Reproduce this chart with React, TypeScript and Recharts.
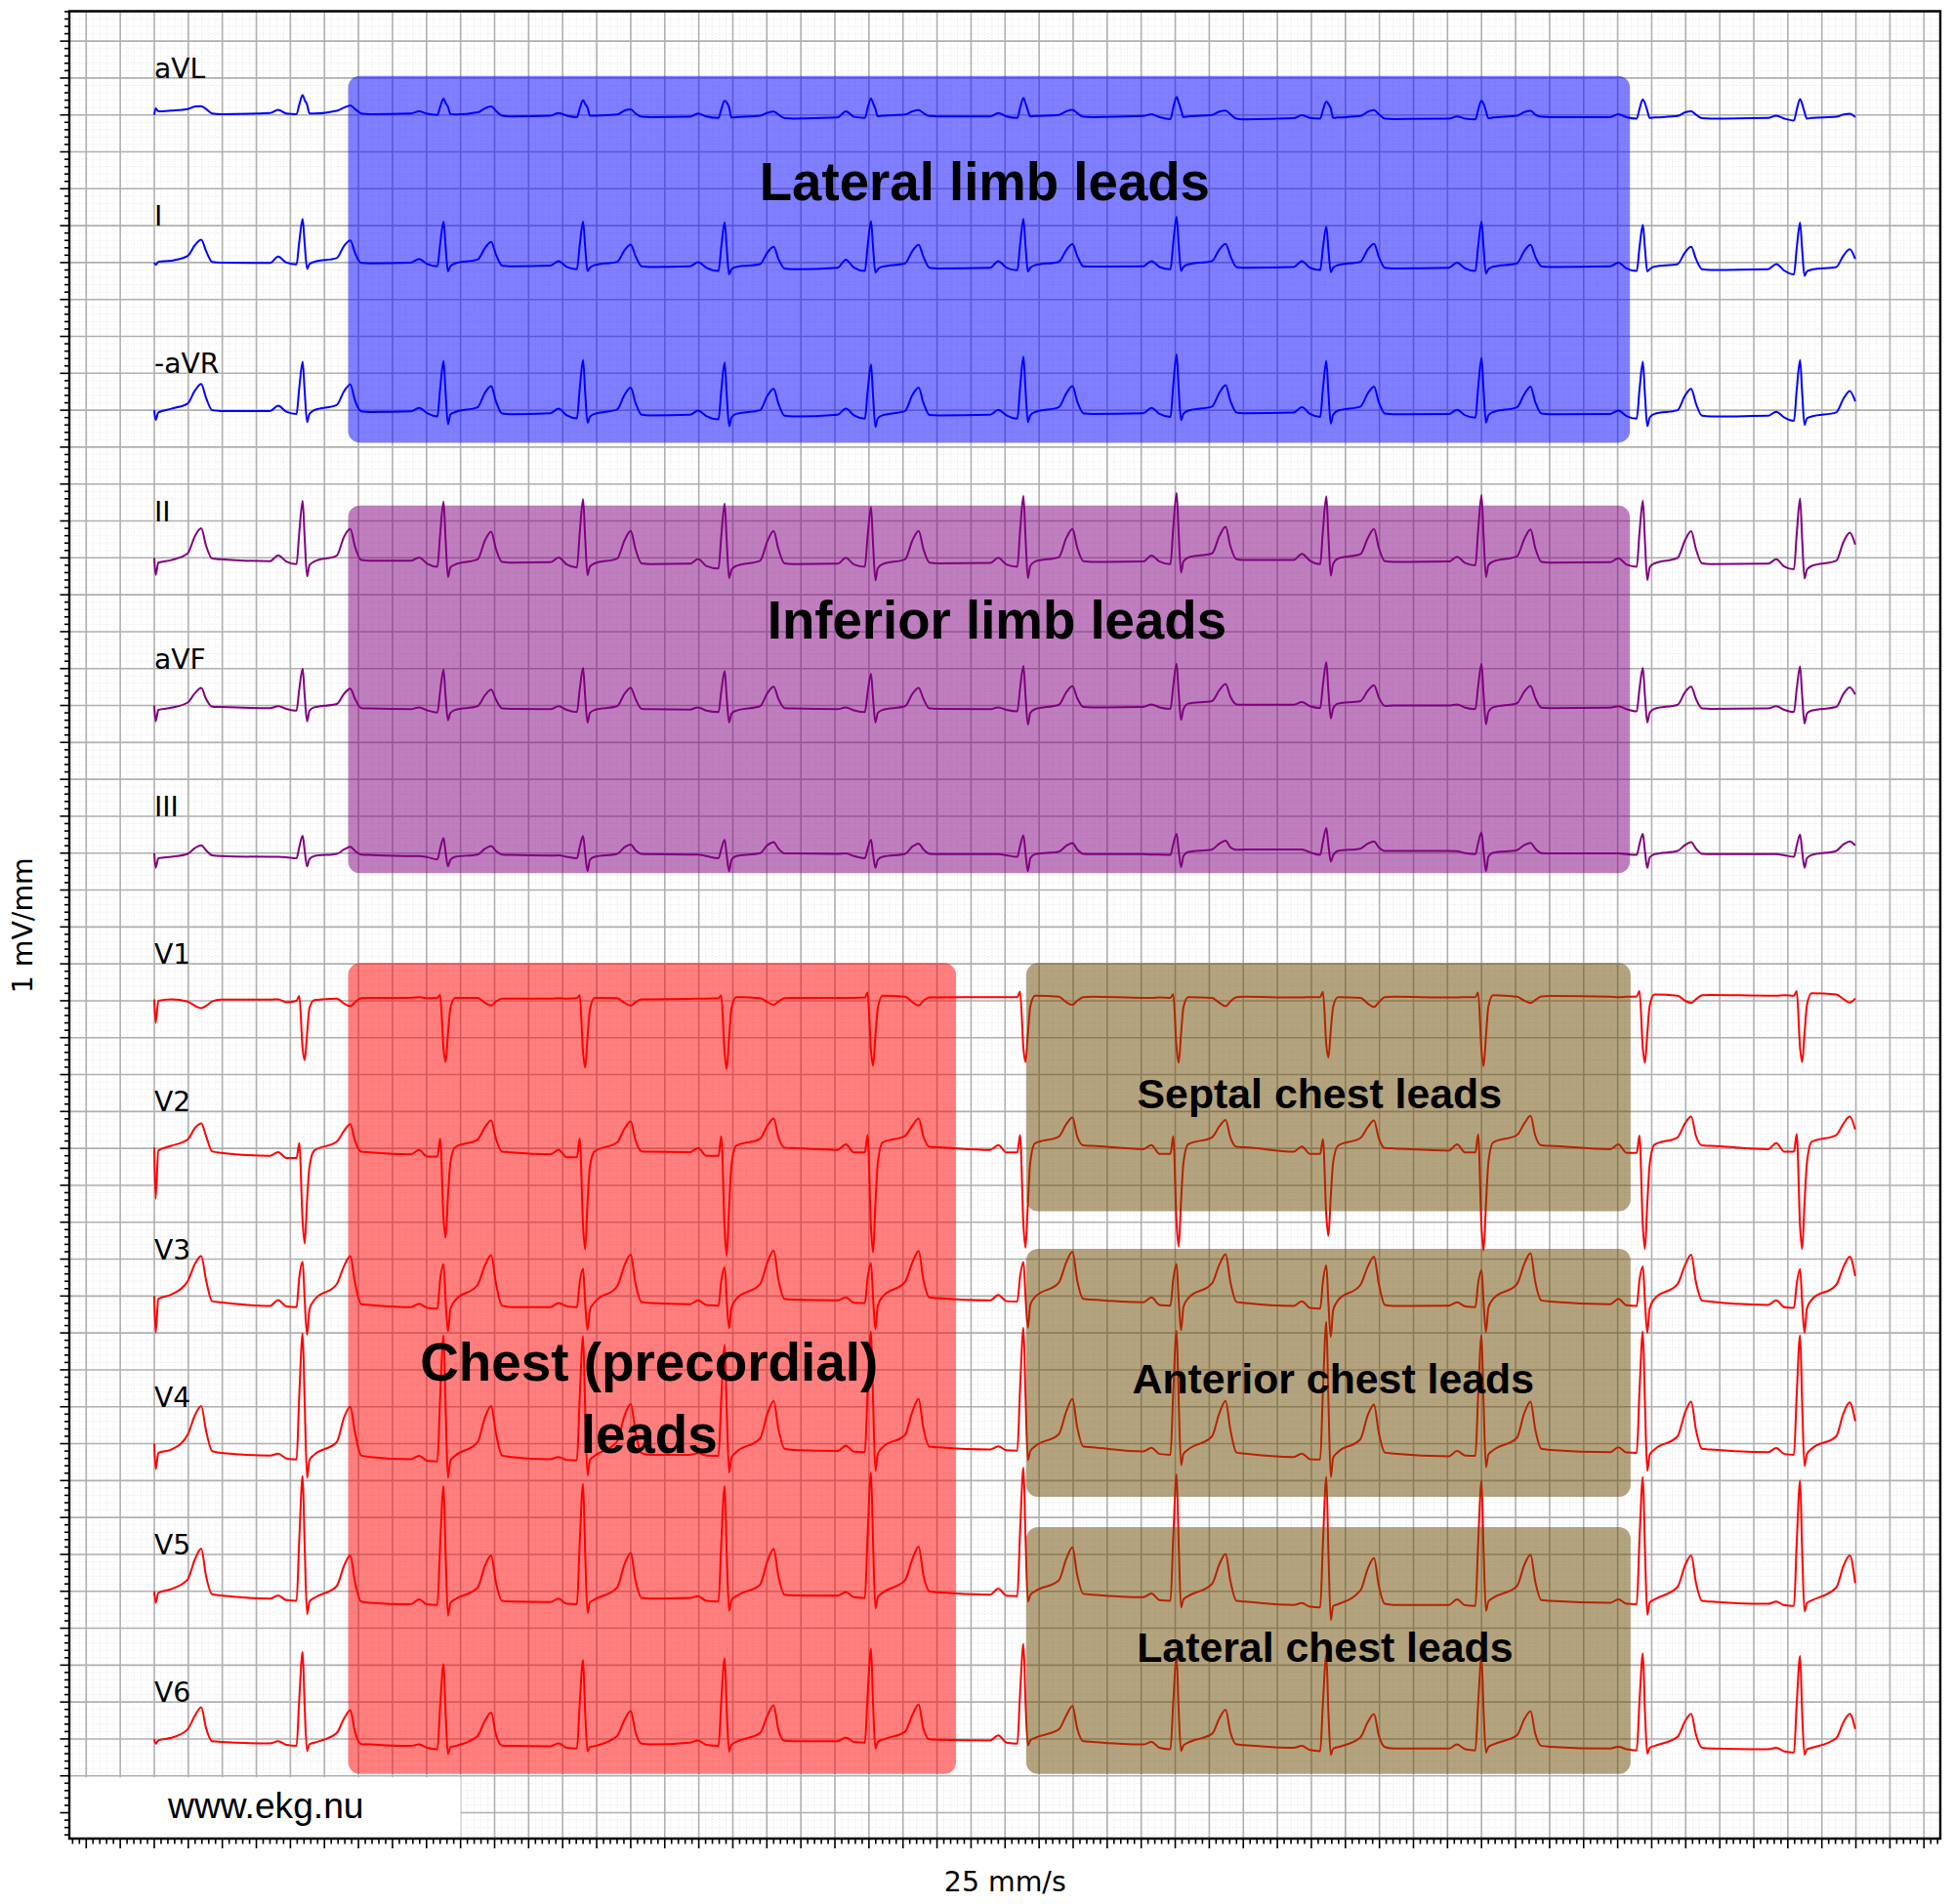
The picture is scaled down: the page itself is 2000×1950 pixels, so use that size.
import { LineChart, Line, XAxis, YAxis, CartesianGrid, ReferenceArea, ReferenceDot } from 'recharts';

// mm along the strip, 25 mm/s, one row per beat
const time = [
  0, .2, .6, 2.5, 4.9, 6.0, 6.9, 7.6, 8.5,
  9.8, 17.0, 18.2, 19.4, 20.9, 21.3, 21.8, 22.1, 22.45, 22.8, 23.5, 26.8, 27.9, 28.8, 29.5, 30.4,
  31.7, 37.7, 38.9, 40.1, 41.6, 42.0, 42.5, 42.8, 43.15, 43.5, 44.2, 47.5, 48.6, 49.5, 50.2, 51.1,
  52.4, 58.2, 59.4, 60.6, 62.1, 62.5, 63.0, 63.3, 63.65, 64.0, 64.7, 68.0, 69.1, 70.0, 70.7, 71.6,
  72.9, 78.7, 79.9, 81.1, 82.9, 83.3, 83.8, 84.1, 84.45, 84.8, 85.5, 89.0, 90.1, 91.0, 91.7, 92.6,
  93.9, 100.4, 101.6, 102.8, 104.4, 104.8, 105.3, 105.6, 105.95, 106.3, 107.0, 110.3, 111.4, 112.3, 113.0, 113.9,
  115.2, 122.8, 124.0, 125.2, 126.8, 127.2, 127.7, 128.0, 128.35, 128.7, 129.4, 132.9, 134.0, 134.9, 135.6, 136.5,
  137.8, 145.3, 146.5, 147.7, 149.3, 149.7, 150.2, 150.5, 150.85, 151.2, 151.9, 155.4, 156.5, 157.4, 158.1, 159.0,
  160.3, 167.4, 168.6, 169.8, 171.3, 171.7, 172.2, 172.5, 172.85, 173.2, 173.9, 177.2, 178.3, 179.2, 179.9, 180.8,
  182.1, 190.2, 191.4, 192.6, 194.1, 194.5, 195.0, 195.3, 195.65, 196.0, 196.7, 200.2, 201.3, 202.2, 202.9, 203.8,
  205.1, 213.9, 215.1, 216.3, 217.8, 218.2, 218.7, 219.0, 219.35, 219.7, 220.4, 223.8, 224.9, 225.8, 226.5, 227.4,
  228.7, 237.1, 238.3, 239.5, 240.9, 241.3, 241.8, 242.1, 242.45, 242.8, 243.5, 247.1, 248.2, 249.1, 249.9,
];

const aVL = [
  0, .9, .5, .6, .8, 1.15, 1.2, .8, .2,
  .1, .25, .7, .2, .1, 1.4, 2.7, 2.0, 1.4, .2, .2, .55, 1.0, 1.3, .8, .2,
  .1, .2, .5, .15, 0, 1.1, 2.2, 1.6, 1.1, .15, .05, .35, .9, 1.15, .55, -.1,
  -.2, -.1, .25, -.1, -.3, .85, 2.0, 1.5, 1.0, -.1, -.1, .05, .6, .75, .2, -.25,
  -.3, -.25, .2, -.2, -.4, .75, 1.9, 1.7, 1.0, -.35, -.3, -.1, .3, .45, .05, -.45,
  -.5, -.35, .5, -.25, -.4, .9, 2.25, 1.6, .8, -.2, -.1, .05, .5, .65, .25, -.15,
  -.2, -.2, .25, -.2, -.4, .95, 2.3, 1.6, .6, -.2, -.15, 0, .5, .7, .25, -.25,
  -.3, -.15, .1, -.3, -.55, .95, 2.45, 1.7, .7, -.3, -.2, 0, .45, .6, .1, -.5,
  -.6, -.45, -.05, -.4, -.5, .65, 1.8, 1.5, .9, -.4, -.35, -.15, .45, .65, .1, -.5,
  -.55, -.5, -.2, -.5, -.6, .7, 1.95, 1.5, .5, -.45, -.35, -.1, .4, .55, .05, -.25,
  -.3, -.3, .1, -.3, -.5, .8, 2.1, 1.6, .6, -.4, -.35, -.15, .35, .5, .05, -.45,
  -.5, -.4, -.1, -.5, -.75, .7, 2.15, 1.5, .4, -.5, -.4, -.25, .05, .15, -.3,
];

const leadI = [
  0, -.3, .1, .25, .9, 2.4, 3.1, 1.6, .1,
  0, -.05, .8, 0, -.25, 2.8, 5.9, 2.5, -.85, -.2, .1, .6, 2.3, 3.0, 1.3, -.05,
  -.1, 0, .5, -.2, -.5, 2.5, 5.55, 2.2, -1.2, -.5, -.1, .4, 2.0, 2.8, 1.1, -.4,
  -.5, -.4, .2, -.6, -.9, 2.3, 5.55, 2.2, -1.15, -.7, -.35, .1, 1.7, 2.45, .9, -.5,
  -.6, -.5, .05, -.7, -1.15, 2.1, 5.45, 2.0, -1.6, -.9, -.6, -.2, 1.4, 2.15, .5, -.8,
  -.9, -.7, .4, -.7, -1.15, 2.2, 5.6, 2.1, -1.35, -.9, -.55, -.1, 1.6, 2.4, .8, -.7,
  -.8, -.7, .2, -.7, -1.05, 2.4, 5.9, 2.3, -1.2, -.7, -.35, .1, 1.7, 2.5, .9, -.5,
  -.55, -.5, .2, -.6, -.9, 2.6, 6.2, 2.5, -1.15, -.6, -.25, .2, 1.8, 2.55, .9, -.6,
  -.7, -.6, .2, -.7, -1.0, 2.0, 4.9, 1.8, -1.3, -.7, -.35, .1, 1.8, 2.55, .8, -.7,
  -.8, -.7, 0, -.8, -1.15, 2.2, 5.55, 2.0, -1.5, -.9, -.55, -.1, 1.6, 2.4, .8, -.5,
  -.6, -.5, 0, -.8, -1.15, 2.0, 5.1, 2.0, -1.2, -.9, -.55, -.2, 1.4, 2.15, .5, -.9,
  -1.0, -.9, -.2, -1.1, -1.6, 1.9, 5.4, 1.8, -1.8, -1.2, -.95, -.6, 1.0, 1.8, .5,
];

const minusAVR = [
  0, -1.3, -.3, .2, .9, 2.7, 3.55, 1.7, 0,
  -.1, -.1, .6, -.2, -.5, 3.0, 6.55, 2.5, -1.6, -.5, 0, .7, 2.6, 3.5, 1.3, -.15,
  -.25, -.15, .3, -.4, -.85, 2.9, 6.65, 2.4, -1.9, -.6, -.25, .4, 2.4, 3.25, 1.2, -.45,
  -.55, -.4, .2, -.7, -1.1, 2.8, 6.8, 2.5, -1.7, -.9, -.5, .1, 2.1, 3.05, 1.0, -.6,
  -.7, -.6, -.05, -.8, -1.25, 2.6, 6.45, 2.2, -2.15, -1.0, -.5, 0, 2.0, 2.9, .9, -.75,
  -.85, -.6, .2, -.7, -1.15, 2.5, 6.2, 2.0, -2.25, -1.1, -.7, -.1, 2.1, 3.05, 1.0, -.65,
  -.7, -.6, .05, -.7, -1.15, 3.0, 7.25, 2.8, -1.6, -.7, -.25, .4, 2.3, 3.25, 1.2, -.4,
  -.5, -.4, .3, -.5, -.9, 3.3, 7.55, 3.0, -1.35, -.5, -.05, .5, 2.4, 3.4, 1.3, -.3,
  -.4, -.3, .4, -.5, -.9, 2.9, 6.65, 2.4, -1.8, -.6, -.05, .5, 2.3, 3.2, 1.1, -.45,
  -.55, -.5, .05, -.7, -1.0, 3.0, 7.1, 2.7, -1.7, -.7, -.25, .4, 2.2, 3.2, 1.1, -.45,
  -.55, -.5, -.05, -.8, -1.15, 2.7, 6.55, 2.2, -2.15, -1.0, -.5, 0, 2.0, 2.9, .9, -.75,
  -.85, -.75, -.2, -1.0, -1.45, 2.7, 6.8, 2.4, -2.0, -1.1, -.85, -.3, 1.6, 2.6, 1.2,
];

const leadII = [
  0, -2.3, -.65, -.3, .6, 3.0, 4.0, 1.7, -.1,
  -.2, -.45, .35, -.5, -.85, 3.4, 7.7, 2.6, -2.5, -1.0, -.5, .3, 2.9, 3.9, 1.5, -.3,
  -.4, -.4, .05, -.8, -1.2, 3.2, 7.6, 2.5, -2.6, -1.3, -.9, -.2, 2.4, 3.55, 1.2, -.55,
  -.65, -.6, .05, -.9, -1.3, 3.3, 7.95, 2.8, -2.35, -1.2, -.75, -.1, 2.4, 3.65, 1.2, -.75,
  -.85, -.8, -.15, -1.1, -1.45, 2.9, 7.35, 2.3, -2.75, -1.6, -1.1, -.4, 2.3, 3.65, 1.2, -.75,
  -.85, -.8, 0, -.9, -1.2, 2.9, 6.9, 1.9, -3.05, -1.4, -.85, -.2, 2.4, 3.65, 1.2, -.65,
  -.75, -.7, 0, -.9, -1.2, 3.6, 8.4, 2.8, -2.75, -1.1, -.5, .1, 2.7, 3.9, 1.4, -.45,
  -.55, -.5, .3, -.5, -.85, 4.0, 8.8, 3.4, -2.0, -.5, .05, .6, 3.0, 4.2, 1.6, -.2,
  -.3, -.3, .55, -.4, -.85, 3.7, 8.35, 3.0, -2.4, -.8, -.1, .5, 2.7, 3.9, 1.4, -.45,
  -.55, -.5, .15, -.7, -1.0, 3.7, 8.5, 3.0, -2.6, -1.0, -.5, .2, 2.6, 3.85, 1.3, -.55,
  -.65, -.6, -.05, -.9, -1.2, 3.3, 7.75, 2.4, -3.0, -1.3, -.75, 0, 2.4, 3.6, 1.2, -.75,
  -.85, -.8, -.2, -1.2, -1.55, 3.2, 8.05, 2.6, -2.8, -1.6, -1.1, -.4, 2.2, 3.4, 1.8,
];

const aVF = [
  0, -2.15, -.6, -.3, .4, 1.7, 2.4, .9, -.15,
  -.2, -.35, -.1, -.45, -.7, 2.2, 5.0, 1.3, -2.15, -.7, -.25, .2, 1.6, 2.3, .9, -.35,
  -.4, -.5, -.25, -.65, -.95, 1.9, 4.85, 1.2, -2.0, -1.0, -.6, -.1, 1.4, 2.15, .8, -.4,
  -.45, -.5, -.1, -.6, -.9, 2.1, 5.1, 1.3, -2.3, -1.0, -.6, -.1, 1.6, 2.4, .9, -.45,
  -.5, -.55, -.25, -.7, -.9, 1.9, 4.65, 1.1, -2.3, -1.1, -.7, -.1, 1.7, 2.55, .9, -.35,
  -.4, -.5, -.25, -.65, -.9, 1.7, 4.3, 1.0, -2.3, -1.0, -.6, -.1, 1.6, 2.4, .9, -.4,
  -.45, -.5, -.25, -.6, -.8, 2.3, 5.35, 1.3, -2.6, -1.0, -.5, .1, 1.8, 2.6, 1.0, -.2,
  -.25, -.2, .15, -.25, -.45, 2.6, 5.65, 1.8, -1.95, -.5, .25, .6, 2.1, 2.9, 1.2, .15,
  .1, .1, .45, -.1, -.35, 2.8, 5.85, 2.0, -1.75, -.4, .25, .6, 2.0, 2.75, 1.1, -.05,
  0, 0, .15, -.3, -.5, 2.6, 5.65, 1.5, -2.55, -.9, -.25, .3, 1.9, 2.65, 1.0, -.3,
  -.35, -.3, -.1, -.5, -.8, 2.2, 5.1, 1.4, -2.3, -1.0, -.45, .1, 1.8, 2.55, .9, -.4,
  -.45, -.4, -.1, -.6, -.9, 2.2, 5.3, 1.4, -2.45, -1.1, -.7, -.2, 1.6, 2.45, 1.5,
];

const leadIII = [
  0, -2.0, -.7, -.5, -.1, .7, 1.05, .4, -.3,
  -.4, -.5, -.5, -.55, -.7, .8, 2.35, .3, -1.8, -.8, -.4, -.1, .5, .85, .3, -.2,
  -.25, -.4, -.4, -.55, -.85, .6, 2.05, .1, -1.8, -.9, -.5, -.2, .6, .95, .3, -.2,
  -.25, -.35, -.3, -.5, -.7, .8, 2.3, 0, -2.45, -.9, -.5, -.1, .8, 1.15, .4, -.1,
  -.15, -.2, -.2, -.4, -.7, .55, 1.8, -.3, -2.45, -.9, -.4, 0, 1.1, 1.5, .6, -.05,
  -.05, -.1, -.05, -.4, -.7, .55, 1.8, -.1, -2.0, -.9, -.5, -.1, .9, 1.3, .5, -.1,
  -.15, -.15, -.15, -.3, -.5, .95, 2.4, 0, -2.45, -.7, -.15, .2, 1.0, 1.35, .5, -.1,
  -.15, -.15, -.2, -.2, -.25, 1.2, 2.6, .35, -1.9, -.4, .15, .5, 1.3, 1.7, .8, .45,
  .5, .5, .5, .1, -.25, 1.6, 3.4, 1.1, -1.15, -.3, .3, .6, 1.3, 1.6, .8, .3,
  .3, .3, .25, 0, -.15, 1.35, 2.8, .2, -2.45, -.5, .05, .4, 1.1, 1.4, .6, 0,
  -.05, -.05, -.05, -.15, -.25, 1.2, 2.6, .3, -2.0, -.6, -.15, .3, 1.1, 1.5, .6, -.1,
  -.15, -.15, -.15, -.3, -.5, 1.0, 2.5, .3, -2.0, -.7, -.25, .3, 1.2, 1.6, 1.05,
];

const V1 = [
  .2, -3.0, 0, .2, -.1, -.7, -1.0, -.7, -.1,
  .15, .15, .2, -.2, 0, .65, -6.5, -8.05, -4.5, -1.0, .1, .3, -.4, -.75, -.2, .35,
  .4, .4, .5, .35, .4, .8, -6.5, -8.3, -4.5, -1.0, .4, .4, -.3, -.65, -.1, .3,
  .3, .3, .35, .3, .35, .75, -7, -9.05, -5, -1.2, .4, .35, -.3, -.65, -.2, .2,
  .2, .25, .3, .3, .35, .75, -7.2, -9.25, -5, -1.0, .5, .35, -.2, -.55, -.1, .35,
  .4, .4, .4, .4, .45, 1.1, -6.8, -8.8, -4.8, -1.0, .7, .55, -.2, -.65, 0, .45,
  .45, .5, .5, .5, .5, 1.25, -6.5, -8.3, -4.5, -.8, .7, .55, -.2, -.55, 0, .5,
  .55, .4, .4, .45, .4, .9, -6.5, -8.4, -4.5, -.9, .5, .4, -.3, -.75, -.1, .5,
  .55, .45, .45, .5, .5, 1.2, -6, -7.7, -4, -.8, .5, .4, -.4, -.85, -.2, .5,
  .55, .45, .45, .5, .5, 1.1, -6.8, -8.85, -4.8, -.8, .75, .55, 0, -.3, .1, .6,
  .65, .55, .5, .55, .6, 1.3, -6.5, -8.4, -4.5, -.7, .85, .7, 0, -.3, .2, .75,
  .8, .7, .7, .75, .7, 1.3, -6.4, -8.3, -4.5, -.6, 1.0, .85, .2, -.25, .3,
];

const V2 = [
  .1, -6.8, -.3, .35, 1.2, 2.8, 3.4, 1.7, -.4,
  -.6, -1.0, -.5, -1.3, -1.3, .7, -10, -12.9, -7, -2.5, -.3, .9, 2.4, 3.3, 1.0, -.45,
  -.55, -.8, -.2, -1.1, -1.1, 1.35, -9.5, -12.1, -6.5, -2, .15, 1.2, 2.9, 3.8, 1.3, -.45,
  -.55, -.8, -.2, -1.2, -1.2, 1.35, -10.5, -13.7, -7.5, -2.5, -.4, .8, 2.7, 3.65, 1.1, -.4,
  -.45, -.5, .05, -1.0, -1.0, 1.65, -11, -14.55, -8, -2.3, .35, 1.3, 3.1, 4.05, 1.5, .1,
  .05, -.2, .55, -.55, -.55, 1.8, -10.8, -14.1, -7.5, -2, .8, 1.7, 3.1, 4.05, 1.6, .2,
  .15, -.2, .45, -.55, -.55, 1.8, -10.5, -13.45, -7.5, -1.9, .7, 1.6, 3.3, 4.2, 1.6, .4,
  .35, -.1, .45, -.75, -.75, 1.65, -10.2, -13.3, -7.2, -2, .55, 1.5, 3.0, 3.85, 1.5, .2,
  .15, -.45, .25, -.75, -.75, 1.25, -9.2, -11.85, -6.5, -1.9, .35, 1.4, 2.9, 3.8, 1.4, .05,
  0, -.3, .55, -.55, -.55, 1.9, -10.8, -13.85, -7.6, -2, .8, 1.8, 3.4, 4.4, 1.7, .4,
  .35, -.1, .55, -.6, -.6, 1.75, -10.6, -13.65, -7.5, -2.2, .5, 1.5, 3.4, 4.3, 1.7, .4,
  .35, -.1, .7, -.45, -.45, 1.95, -10.6, -13.65, -7.5, -2, .9, 1.8, 3.4, 4.3, 2.55,
];

const V3 = [
  0, -4.95, -.4, .2, 2.0, 4.4, 5.45, 2.2, -.7,
  -.85, -1.35, -.55, -1.4, -1.5, 2.5, 4.65, -.5, -5.25, -1.8, -.55, 1.6, 4.1, 5.4, 1.8, -1.1,
  -1.2, -1.5, -1.05, -1.6, -1.7, 2.2, 4.3, -.6, -4.8, -1.8, -.6, 1.5, 4.2, 5.55, 1.7, -1.3,
  -1.5, -1.5, -.95, -1.4, -1.5, 1.8, 3.7, -.8, -4.6, -1.9, -.85, 1.3, 4.2, 5.6, 1.7, -.8,
  -.95, -1.1, -.6, -1.2, -1.3, 2.0, 3.9, -.6, -4.35, -1.6, -.4, 1.6, 4.6, 6.15, 2.2, -.4,
  -.5, -.6, -.2, -.9, -.95, 2.4, 4.45, -.2, -4.5, -1.3, -.1, 1.9, 4.6, 6.1, 2.2, -.2,
  -.3, -.6, .15, -.7, -.75, 2.6, 4.6, -.1, -4.3, -1.2, -.15, 1.8, 4.6, 6.0, 2.1, -.4,
  -.5, -.85, -.2, -1.2, -1.3, 2.2, 4.3, -.4, -4.65, -1.5, -.3, 1.7, 4.3, 5.65, 1.9, -.8,
  -.95, -1.35, -.7, -1.6, -1.7, 2.0, 4.15, -.9, -5.55, -1.9, -.6, 1.5, 4, 5.35, 1.7, -1.2,
  -1.35, -1.3, -.85, -1.4, -1.5, 1.7, 3.5, -.8, -4.9, -1.6, -.4, 1.6, 4.4, 5.8, 1.9, -.6,
  -.75, -1.1, -.4, -1.25, -1.35, 2.1, 4.0, -.6, -5.0, -1.7, -.4, 1.6, 4.2, 5.6, 1.9, -.6,
  -.75, -1.2, -.6, -1.5, -1.6, 1.6, 3.65, -.8, -5.0, -1.7, -.5, 1.5, 4, 5.35, 2.7,
];

const V4 = [
  0, -3.45, -1.25, -.8, 1.2, 3.9, 5.1, 1.8, -1.0,
  -1.25, -1.6, -1.35, -2.0, -2.15, 6.5, 14.95, 5.5, -4.65, -2.2, -1.5, .2, 3.6, 5.0, 1.5, -1.6,
  -1.8, -2.1, -1.65, -2.3, -2.4, 6.2, 14.7, 5, -4.65, -2.3, -1.65, .2, 3.6, 5.1, 1.4, -1.6,
  -1.8, -2.1, -1.8, -2.2, -2.25, 6.2, 14.55, 5, -4.3, -2.2, -1.65, .3, 3.8, 5.35, 1.6, -1.3,
  -1.5, -1.5, -1.3, -1.6, -1.65, 6, 13.4, 4.8, -3.9, -1.9, -1.15, .7, 4.1, 5.8, 2, -.7,
  -.85, -1, -.25, -1.1, -1.15, 7, 15.2, 6, -3.65, -1.4, -.5, 1.2, 4.4, 6.05, 2.1, -.4,
  -.5, -.8, -.35, -.9, -.95, 7.4, 15.7, 6.5, -2.25, -1.0, -.35, 1.3, 4.4, 6.05, 2.2, -.4,
  -.5, -1.05, -.55, -1.4, -1.5, 6.9, 15.3, 6, -2.9, -1.4, -.8, 1.0, 4.2, 5.8, 1.9, -1.2,
  -1.35, -1.8, -1.35, -2.1, -2.15, 7.2, 16.5, 6, -4.55, -1.9, -1.15, .6, 3.9, 5.3, 1.5, -1.2,
  -1.35, -1.7, -1, -1.6, -1.65, 6.5, 14.7, 5.5, -3.2, -1.5, -.9, .8, 4.2, 5.7, 1.9, -.7,
  -.85, -1.15, -.5, -1.2, -1.25, 7, 15.2, 5.8, -3.7, -1.5, -.8, 1.0, 4.2, 5.7, 1.9, -.7,
  -.8, -1.15, -.6, -1.4, -1.5, 6.6, 14.7, 5.6, -3.05, -1.4, -.7, 1.0, 4.2, 5.6, 3.05,
];

const V5 = [
  0, -1.55, -.2, .3, 1.6, 4.4, 5.8, 2.1, -.4,
  -.55, -1.0, -.55, -1.2, -1.3, 7, 15.65, 6, -3.1, -1.4, -.9, .7, 3.5, 4.85, 1.2, -1.4,
  -1.55, -1.75, -1.1, -1.8, -1.85, 6.2, 14.25, 5.2, -3.3, -1.6, -1.1, .5, 3.5, 4.85, 1.2, -1.3,
  -1.4, -1.45, -1, -1.7, -1.75, 6.4, 14.55, 5.5, -2.95, -1.5, -1.1, .5, 3.7, 5.15, 1.5, -.9,
  -1, -.9, -.65, -1.3, -1.4, 6.4, 14.25, 5.4, -2.65, -1.2, -.65, .9, 4.1, 5.75, 2, -.45,
  -.55, -.6, -.1, -.8, -.9, 7.6, 16.1, 6.8, -2.3, -.8, -.2, 1.5, 4.4, 6.05, 2.2, 0,
  -.15, -.45, .35, -.6, -.65, 8, 16.75, 7.3, -1.4, -.5, 0, 1.5, 4.4, 5.95, 2.2, -.35,
  -.45, -.8, -.3, -1.2, -1.3, 7.2, 15.85, 6.5, -2.2, -1.1, -.65, 1.0, 3.7, 5.05, 1.4, -1.3,
  -1.4, -1.85, -1.6, -2.1, -2.2, 6.6, 15.5, 5.5, -3.9, -2, -1.75, .1, 3.1, 4.5, .8, -1.7,
  -1.85, -1.85, -1.1, -1.9, -2, 6.5, 15, 5.5, -2.65, -1.4, -.9, .7, 3.6, 4.95, 1.3, -1.2,
  -1.3, -1.55, -1.1, -1.7, -1.75, 6.9, 15.5, 6, -3.2, -1.5, -1.1, .6, 3.5, 4.85, 1.2, -1.3,
  -1.4, -1.7, -1.4, -1.9, -2, 6.5, 15, 5.6, -2.75, -1.6, -1.25, .5, 3.5, 4.85, 1.1,
];

const V6 = [
  0, -.65, -.2, .15, 1.3, 3.2, 4.3, 1.5, -.3,
  -.4, -.6, -.3, -.8, -.95, 5.4, 11.8, 4.2, -1.65, -.7, -.5, .8, 2.8, 3.9, .9, -.7,
  -.75, -.95, -.75, -1.2, -1.4, 4.4, 10.15, 3.6, -2.05, -1.1, -.95, .4, 2.5, 3.55, .6, -.9,
  -.95, -1, -.6, -1.2, -1.3, 4.7, 10.7, 3.8, -1.7, -1.1, -.95, .4, 2.6, 3.8, .9, -.65,
  -.75, -.5, -.2, -.8, -.95, 5, 10.95, 4, -1.7, -.8, -.4, .8, 3.2, 4.55, 1.2, -.25,
  -.3, -.3, .2, -.4, -.5, 5.8, 12.25, 4.8, -1.3, -.4, -.1, 1.0, 3.3, 4.65, 1.4, -.05,
  -.1, -.2, .5, -.5, -.65, 6.1, 12.9, 5, -.85, -.2, .15, 1.3, 3.2, 4.45, 1.4, -.3,
  -.4, -.75, -.4, -1.2, -1.4, 4.9, 11.15, 3.9, -1.65, -.9, -.5, .7, 2.8, 3.95, .9, -.75,
  -.85, -1.2, -.95, -1.5, -1.65, 4.9, 11.4, 3.7, -2.15, -1.3, -1.1, .2, 2.3, 3.35, .5, -1.1,
  -1.3, -1.3, -.75, -1.4, -1.55, 4.8, 11.15, 3.8, -1.85, -1.1, -.75, .5, 2.7, 3.75, .7, -.95,
  -1.05, -1.3, -1.05, -1.4, -1.55, 5, 11.6, 3.9, -2, -1.2, -.95, .3, 2.4, 3.4, .6, -1.2,
  -1.3, -1.4, -1.2, -1.7, -1.85, 4.7, 11.25, 3.6, -2.15, -1.4, -1.2, .1, 2.3, 3.4, 1.35,
];

const leads = [
  { name: 'aVL', values: aVL, base: 230, color: '#0000ff' },
  { name: 'I', values: leadI, base: 210, color: '#0000ff' },
  { name: '-aVR', values: minusAVR, base: 190, color: '#0000ff' },
  { name: 'II', values: leadII, base: 170, color: '#800080' },
  { name: 'aVF', values: aVF, base: 150, color: '#800080' },
  { name: 'III', values: leadIII, base: 130, color: '#800080' },
  { name: 'V1', values: V1, base: 110, color: '#ff0000' },
  { name: 'V2', values: V2, base: 90, color: '#ff0000' },
  { name: 'V3', values: V3, base: 70, color: '#ff0000' },
  { name: 'V4', values: V4, base: 50, color: '#ff0000' },
  { name: 'V5', values: V5, base: 30, color: '#ff0000' },
  { name: 'V6', values: V6, base: 10, color: '#ff0000' },
];

const regions = [
  { x1: 28.48, x2: 216.8, y1: 185.6, y2: 235.3, fill: 'rgb(0,0,255)' },
  { x1: 28.48, x2: 216.8, y1: 127.3, y2: 177.1, fill: 'rgb(128,0,128)' },
  { x1: 28.48, x2: 117.8, y1: 5.26, y2: 115.1, fill: 'rgb(255,0,0)' },
  { x1: 128.1, x2: 216.9, y1: 81.5, y2: 115.1, fill: 'rgb(105,71,0)' },
  { x1: 128.1, x2: 216.9, y1: 42.8, y2: 76.4, fill: 'rgb(105,71,0)' },
  { x1: 128.1, x2: 216.9, y1: 5.26, y2: 38.7, fill: 'rgb(105,71,0)' },
];

const regionTitles = [
  { text: 'Lateral limb leads', x: 122, y: 218.4, size: 54.6 },
  { text: 'Inferior limb leads', x: 123.8, y: 159, size: 54.6 },
  { text: 'Chest (precordial)', x: 72.7, y: 58.6, size: 54.8 },
  { text: 'leads', x: 72.7, y: 48.8, size: 54.8 },
  { text: 'Septal chest leads', x: 171.2, y: 95.5, size: 42.8 },
  { text: 'Anterior chest leads', x: 173.2, y: 56.8, size: 42.8 },
  { text: 'Lateral chest leads', x: 172, y: 20.5, size: 42.8 },
];

const X_MIN = -12.48;
const X_MAX = 262.4;
const Y_MIN = -3.5;
const Y_MAX = 244.05;

const range = (from: number, to: number, step: number) => {
  const out: number[] = [];
  for (let v = from; v <= to; v += step) out.push(v);
  return out;
};

const xMinor = range(-12, 262, 1);
const yMinor = range(-3, 244, 1);
const xMajor = range(-10, 260, 5);
const yMajor = range(0, 240, 5);

const chartData = time.map((t, i) => {
  const row: Record<string, number> = { t };
  leads.forEach((lead) => {
    row[lead.name] = lead.values[i] + lead.base;
  });
  return row;
});

const BottomTick = ({ x, y, payload }: any) => (
  <line x1={x} x2={x} y1={y} y2={y + (payload.value % 5 === 0 ? 10 : 5.5)} stroke="#000" strokeWidth={1.6} />
);

const LeftTick = ({ x, y, payload }: any) => (
  <line x1={x} x2={x - (payload.value % 5 === 0 ? 9.5 : 5)} y1={y} y2={y} stroke="#000" strokeWidth={1.6} />
);

const note = (
  key: string,
  text: string,
  x: number,
  y: number,
  size: number,
  family: string,
  anchor = 'start',
  weight = 'normal',
  angle = 0,
) => (
  <ReferenceDot
    key={key}
    x={x}
    y={y}
    r={0}
    ifOverflow="visible"
    zIndex={2000}
    shape={(p: any) => (
      <text
        x={p.cx}
        y={p.cy}
        transform={angle ? `rotate(${angle} ${p.cx} ${p.cy})` : undefined}
        fontSize={size}
        fontFamily={family}
        textAnchor={anchor}
        fontWeight={weight}
        fill="#000"
      >
        {text}
      </text>
    )}
  />
);

export default function App() {
  return (
    <div style={{ position: 'absolute', left: 0, top: 0, width: 2000, height: 1950, background: '#fff' }}>
      <LineChart width={2000} height={1950} data={chartData} margin={{ top: 11.5, right: 13, bottom: 0, left: 0 }}>
        <CartesianGrid
          verticalValues={xMinor}
          horizontalValues={yMinor}
          stroke="#ececec"
          strokeWidth={1}
          strokeDasharray="1.4 1.6"
        />
        <CartesianGrid verticalValues={xMajor} horizontalValues={yMajor} stroke="#b0b0b0" strokeWidth={1.6} />
        <XAxis
          dataKey="t"
          type="number"
          domain={[X_MIN, X_MAX]}
          allowDataOverflow
          ticks={xMinor}
          interval={0}
          height={67}
          tickSize={0}
          tickMargin={0}
          axisLine={false}
          tickLine={false}
          tick={<BottomTick />}
        />
        <YAxis
          type="number"
          domain={[Y_MIN, Y_MAX]}
          allowDataOverflow
          ticks={yMinor}
          interval={0}
          width={71}
          tickSize={0}
          tickMargin={0}
          axisLine={false}
          tickLine={false}
          tick={<LeftTick />}
        />
        {leads.map((lead) => (
          <Line
            key={lead.name}
            dataKey={lead.name}
            type="monotoneX"
            stroke={lead.color}
            strokeWidth={2}
            dot={false}
            isAnimationActive={false}
          />
        ))}
        {regions.map((r, i) => (
          <ReferenceArea
            key={i}
            x1={r.x1}
            x2={r.x2}
            y1={r.y1}
            y2={r.y2}
            fill={r.fill}
            fillOpacity={0.5}
            stroke="none"
            radius={12}
            ifOverflow="visible"
            zIndex={1000}
          />
        ))}
        <ReferenceArea x1={X_MIN} x2={45} y1={Y_MIN} y2={4.8} fill="#fff" fillOpacity={1} stroke="none" ifOverflow="visible" zIndex={1000} />
        {leads.map((lead) => note(lead.name, lead.name, 0, lead.base + 5, 28.2, 'DejaVu Sans'))}
        {regionTitles.map((t) => note(t.text, t.text, t.x, t.y, t.size, 'Liberation Sans', 'middle', 'bold'))}
        {note('site', 'www.ekg.nu', 16.4, -0.7, 37.2, 'Liberation Sans', 'middle')}
        {note('xname', '25 mm/s', 125, -10.6, 28.4, 'DejaVu Sans', 'middle')}
        {note('yname', '1 mV/mm', -17.9, 120.2, 28.4, 'DejaVu Sans', 'middle', 'normal', -90)}
        <ReferenceArea x1={X_MIN} x2={X_MAX} y1={Y_MIN} y2={Y_MAX} fill="none" stroke="#000" strokeWidth={2.4} ifOverflow="visible" zIndex={1500} />
      </LineChart>
    </div>
  );
}
